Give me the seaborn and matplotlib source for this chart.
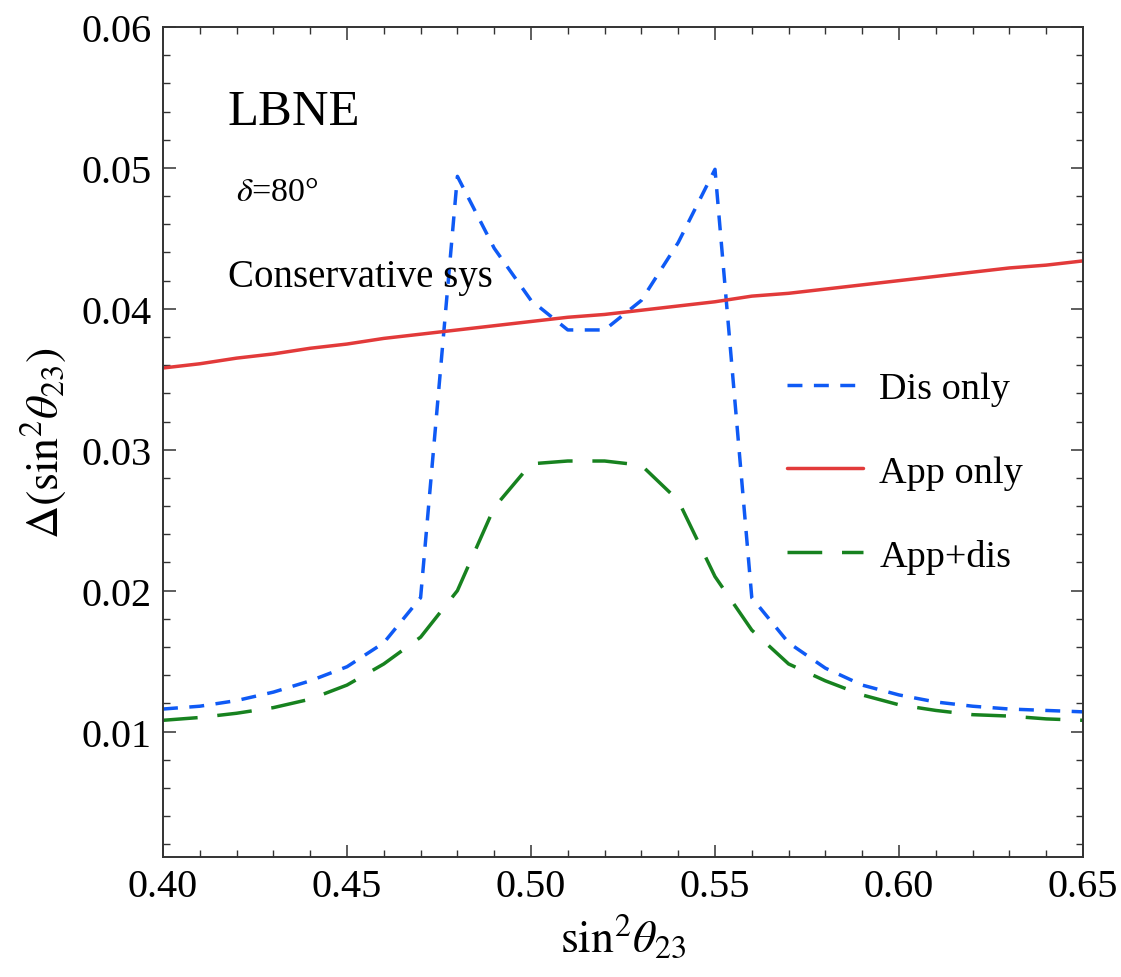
import numpy as np
import pandas as pd
import matplotlib
matplotlib.use('Agg')
import matplotlib.pyplot as plt
import seaborn as sns
from matplotlib.ticker import MultipleLocator

x_vals = [0.40, 0.41, 0.42, 0.43, 0.44, 0.45, 0.46, 0.47, 0.48, 0.49, 0.50, 0.51, 0.52,
          0.53, 0.54, 0.55, 0.56, 0.57, 0.58, 0.59, 0.60, 0.61, 0.62, 0.63, 0.64, 0.65]

dis_only = [0.0116, 0.0118, 0.0122, 0.0128, 0.0136, 0.0146, 0.0163, 0.0195, 0.0494, 0.0443,
            0.0406, 0.0385, 0.0385, 0.0406, 0.0447, 0.0499, 0.0195, 0.0163, 0.0145, 0.0133,
            0.0126, 0.0121, 0.0118, 0.0116, 0.0115, 0.0114]

app_only = [0.0358, 0.0361, 0.0365, 0.0368, 0.0372, 0.0375, 0.0379, 0.0382, 0.0385, 0.0388,
            0.0391, 0.0394, 0.0396, 0.0399, 0.0402, 0.0405, 0.0409, 0.0411, 0.0414, 0.0417,
            0.0420, 0.0423, 0.0426, 0.0429, 0.0431, 0.0434]

app_dis = [0.0108, 0.0110, 0.0113, 0.0117, 0.0123, 0.0133, 0.0148, 0.0167, 0.0200, 0.0259,
           0.0290, 0.0292, 0.0292, 0.0289, 0.0264, 0.0210, 0.0172, 0.0148, 0.0136, 0.0126,
           0.0119, 0.0115, 0.0112, 0.0111, 0.0109, 0.0108]

sns.set_theme(style='ticks')
plt.rcParams['font.family'] = ['Liberation Serif', 'DejaVu Serif']
plt.rcParams['mathtext.fontset'] = 'stix'
plt.rcParams['text.color'] = 'black'
plt.rcParams['axes.labelcolor'] = 'black'
plt.rcParams['xtick.labelcolor'] = 'black'
plt.rcParams['ytick.labelcolor'] = 'black'

fig = plt.figure(figsize=(11.21, 9.78), dpi=100)
ax = fig.add_axes([0.1454, 0.1227, 0.8207, 0.8487])

sns.lineplot(x=x_vals, y=dis_only, ax=ax, color='#0f5af5', lw=2.5,
             linestyle=(0, (4.3, 3.3)), label='Dis only')
sns.lineplot(x=x_vals, y=app_only, ax=ax, color='#e23a3a', lw=2.5,
             linestyle='-', label='App only')
sns.lineplot(x=x_vals, y=app_dis, ax=ax, color='#17821f', lw=2.5,
             linestyle=(0, (10, 5.7)), label='App+dis')

ax.set_xlim(0.40, 0.65)
ax.set_ylim(0.0011, 0.06)
ax.set_yticks([0.01, 0.02, 0.03, 0.04, 0.05, 0.06])
ax.set_yticklabels(['0.01', '0.02', '0.03', '0.04', '0.05', '0.06'])
ax.set_xticks([0.40, 0.45, 0.50, 0.55, 0.60, 0.65])
ax.set_xticklabels(['0.40', '0.45', '0.50', '0.55', '0.60', '0.65'])
ax.xaxis.set_minor_locator(MultipleLocator(0.01))
ax.yaxis.set_minor_locator(MultipleLocator(0.002))

ax.tick_params(which='both', direction='in', top=True, right=True, labelsize=29,
               color='#333333', pad=8)
ax.tick_params(which='major', length=9, width=1.1)
ax.tick_params(which='minor', length=5, width=1.0)
for s in ax.spines.values():
    s.set_linewidth(1.4)
    s.set_color('#333333')

ax.set_xlabel(r'$\sin^2\!\theta_{23}$', fontsize=33, labelpad=6)
ax.set_ylabel(r'$\Delta(\sin^2\!\theta_{23})$', fontsize=33, labelpad=10)

ax.text(0.0696, 0.8976, 'LBNE', transform=ax.transAxes, fontsize=36.5, va='center')
ax.text(0.079, 0.801, r'$\delta$=80°', transform=ax.transAxes, fontsize=24.5, va='center')
ax.text(0.0707, 0.699, 'Conservative sys', transform=ax.transAxes, fontsize=28, va='center')

ax.legend(loc='upper left', bbox_to_anchor=(0.678, 0.585), frameon=False, fontsize=27.5,
          handlelength=2.0, handletextpad=0.42, labelspacing=1.28,
          borderpad=0, borderaxespad=0)

fig.savefig('out.png', dpi=100)
